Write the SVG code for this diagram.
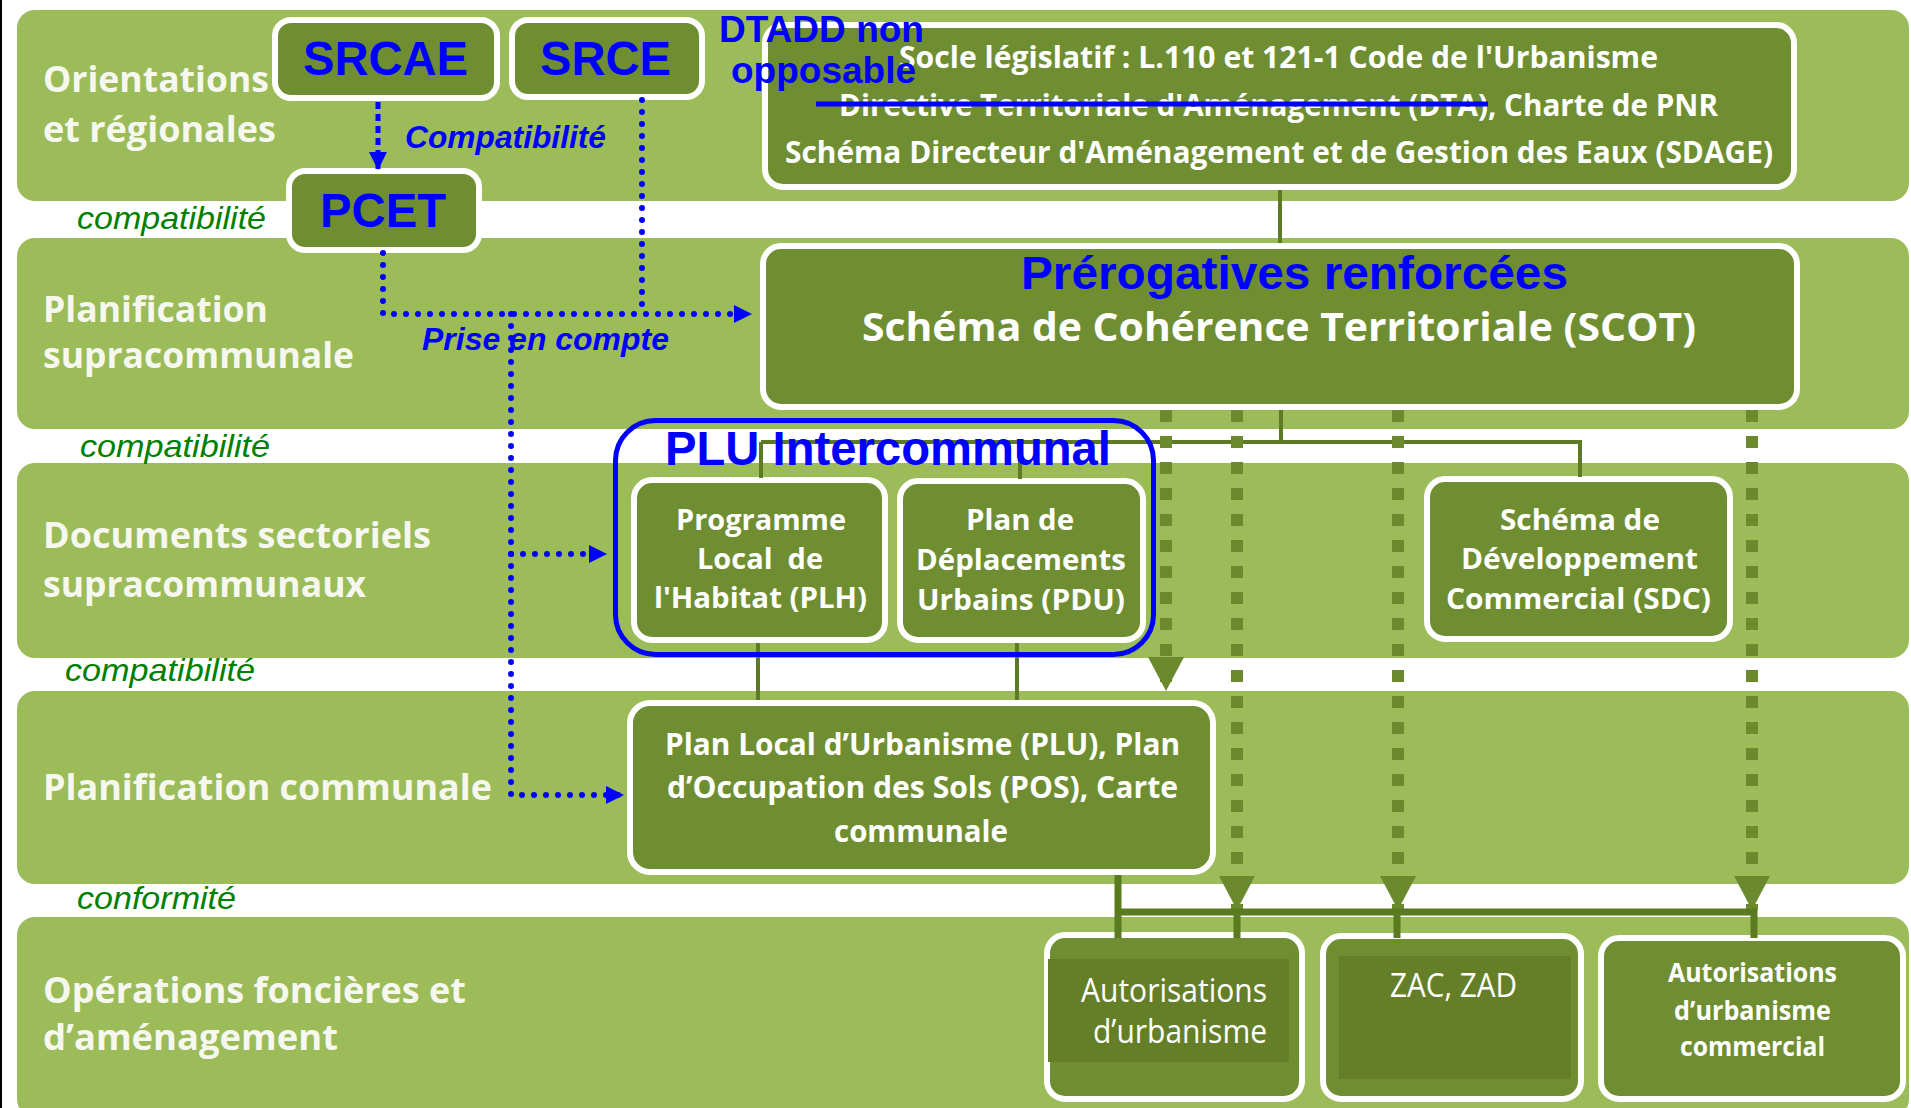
<svg xmlns="http://www.w3.org/2000/svg" width="1911" height="1108" viewBox="0 0 1911 1108">
<style>
.band{fill:#9bbc59}
.lbl{font-family:"Open Sans","Liberation Sans",sans-serif;font-weight:700;font-size:36px;fill:#f6f8f0}
.rel{font-family:"Liberation Sans",Arial,sans-serif;font-style:italic;font-size:32px;fill:#008000}
.box{fill:#6f8e31;stroke:#ffffff;stroke-width:6}
.bt{font-family:"Open Sans","Liberation Sans",sans-serif;font-weight:700;fill:#ffffff}
.bt-r{font-family:"Open Sans","Liberation Sans",sans-serif;font-weight:400;fill:#ffffff}
.blue{font-family:"Liberation Sans",Arial,sans-serif;font-weight:bold;fill:#0000ff}
.bdot{fill:none;stroke:#0000ff;stroke-width:6;stroke-dasharray:0 12;stroke-linecap:round}
.bdash{fill:none;stroke:#0000ff;stroke-width:5;stroke-dasharray:7 5}
.gdot{fill:none;stroke:#6b8a2e;stroke-width:12;stroke-dasharray:12 14}
.gline{fill:none;stroke:#5d7b24;stroke-width:4}
.bus{fill:none;stroke:#5a7a20;stroke-width:7}
.ovl{fill:#647f27}
</style>
<defs>
<marker id="barrow" markerUnits="userSpaceOnUse" markerWidth="18" markerHeight="18" refX="18" refY="9" orient="auto">
<path d="M0,0 L18,9 L0,18 z" fill="#0000ff"/>
</marker>
<marker id="garrow" markerUnits="userSpaceOnUse" markerWidth="36" markerHeight="36" refX="34" refY="18" orient="auto">
<path d="M0,0 L34,18 L0,36 z" fill="#6b8a2e"/>
</marker>
</defs>
<rect x="0" y="0" width="1911" height="1108" fill="#ffffff"/>
<line x1="1" y1="0" x2="1" y2="1108" stroke="#000000" stroke-width="2"/>

<g id="bands">
<rect class="band" x="17" y="10" width="1892" height="191" rx="18"/>
<rect class="band" x="17" y="238" width="1892" height="191" rx="18"/>
<rect class="band" x="17" y="463" width="1892" height="195" rx="18"/>
<rect class="band" x="17" y="691" width="1892" height="193" rx="18"/>
<rect class="band" x="17" y="917" width="1892" height="200" rx="18"/>
</g>

<g id="band-labels">
<text class="lbl" x="43" y="92" textLength="226" lengthAdjust="spacingAndGlyphs">Orientations</text>
<text class="lbl" x="43" y="142" textLength="233" lengthAdjust="spacingAndGlyphs">et régionales</text>
<text class="lbl" x="43" y="322" textLength="225" lengthAdjust="spacingAndGlyphs">Planification</text>
<text class="lbl" x="43" y="368" textLength="311" lengthAdjust="spacingAndGlyphs">supracommunale</text>
<text class="lbl" x="43" y="548" textLength="388" lengthAdjust="spacingAndGlyphs">Documents sectoriels</text>
<text class="lbl" x="43" y="597" textLength="323" lengthAdjust="spacingAndGlyphs">supracommunaux</text>
<text class="lbl" x="43" y="800" textLength="449" lengthAdjust="spacingAndGlyphs">Planification communale</text>
<text class="lbl" x="43" y="1003" textLength="423" lengthAdjust="spacingAndGlyphs">Opérations foncières et</text>
<text class="lbl" x="43" y="1050" textLength="295" lengthAdjust="spacingAndGlyphs">d’aménagement</text>
</g>

<g id="relation-labels">
<text class="rel" x="77" y="229" textLength="189" lengthAdjust="spacingAndGlyphs">compatibilité</text>
<text class="rel" x="80" y="457" textLength="190" lengthAdjust="spacingAndGlyphs">compatibilité</text>
<text class="rel" x="65" y="681" textLength="190" lengthAdjust="spacingAndGlyphs">compatibilité</text>
<text class="rel" x="77" y="909" textLength="159" lengthAdjust="spacingAndGlyphs">conformité</text>
</g>

<g id="socle">
<rect class="box" x="765" y="25" width="1029" height="162" rx="18"/>
<text class="bt" font-size="31" x="899" y="68" textLength="759" lengthAdjust="spacingAndGlyphs">Socle législatif : L.110 et 121-1 Code de l'Urbanisme</text>
<text class="bt" font-size="31" x="839" y="116" textLength="879" lengthAdjust="spacingAndGlyphs">Directive Territoriale d'Aménagement (DTA), Charte de PNR</text>
<text class="bt" font-size="31" x="785" y="163" textLength="988" lengthAdjust="spacingAndGlyphs">Schéma Directeur d'Aménagement et de Gestion des Eaux (SDAGE)</text>
</g>

<g id="scot">
<rect class="box" x="763" y="246" width="1034" height="161" rx="18"/>
<text class="bt" font-size="40" x="862" y="341" textLength="834" lengthAdjust="spacingAndGlyphs">Schéma de Cohérence Territoriale (SCOT)</text>
</g>

<g id="srcae">
<rect class="box" x="275" y="20" width="222" height="78" rx="16"/>
<text class="blue" font-size="48" x="303" y="75" textLength="165" lengthAdjust="spacingAndGlyphs">SRCAE</text>
</g>
<g id="srce">
<rect class="box" x="512" y="20" width="190" height="77" rx="16"/>
<text class="blue" font-size="48" x="540" y="75" textLength="131" lengthAdjust="spacingAndGlyphs">SRCE</text>
</g>
<g id="pcet">
<rect class="box" x="289" y="171" width="190" height="79" rx="16"/>
<text class="blue" font-size="48" x="320" y="227" textLength="126" lengthAdjust="spacingAndGlyphs">PCET</text>
</g>

<g id="plh">
<rect class="box" x="634" y="480" width="251" height="160" rx="18"/>
<text class="bt" font-size="28" x="676" y="530" textLength="170" lengthAdjust="spacingAndGlyphs">Programme</text>
<text class="bt" font-size="28" x="697" y="569" textLength="126" lengthAdjust="spacingAndGlyphs" xml:space="preserve">Local  de</text>
<text class="bt" font-size="28" x="654" y="608" textLength="213" lengthAdjust="spacingAndGlyphs">l'Habitat (PLH)</text>
</g>
<g id="pdu">
<rect class="box" x="900" y="481" width="243" height="159" rx="18"/>
<text class="bt" font-size="28" x="966" y="530" textLength="108" lengthAdjust="spacingAndGlyphs">Plan de</text>
<text class="bt" font-size="28" x="916" y="570" textLength="210" lengthAdjust="spacingAndGlyphs">Déplacements</text>
<text class="bt" font-size="28" x="917" y="610" textLength="208" lengthAdjust="spacingAndGlyphs">Urbains (PDU)</text>
</g>
<g id="sdc">
<rect class="box" x="1427" y="479" width="303" height="160" rx="18"/>
<text class="bt" font-size="28" x="1500" y="530" textLength="160" lengthAdjust="spacingAndGlyphs">Schéma de</text>
<text class="bt" font-size="28" x="1461" y="569" textLength="237" lengthAdjust="spacingAndGlyphs">Développement</text>
<text class="bt" font-size="28" x="1446" y="609" textLength="265" lengthAdjust="spacingAndGlyphs">Commercial (SDC)</text>
</g>
<g id="plu">
<rect class="box" x="630" y="703" width="583" height="169" rx="20"/>
<text class="bt" font-size="30" x="665" y="755" textLength="515" lengthAdjust="spacingAndGlyphs">Plan Local d’Urbanisme (PLU), Plan</text>
<text class="bt" font-size="30" x="667" y="798" textLength="511" lengthAdjust="spacingAndGlyphs">d’Occupation des Sols (POS), Carte</text>
<text class="bt" font-size="30" x="834" y="842" textLength="174" lengthAdjust="spacingAndGlyphs">communale</text>
</g>

<g id="autorisations">
<rect class="box" x="1047" y="935" width="255" height="164" rx="18"/>
<rect class="ovl" x="1048" y="959" width="241" height="103"/>
<text class="bt-r" font-size="32" x="1081" y="1002" textLength="186" lengthAdjust="spacingAndGlyphs">Autorisations</text>
<text class="bt-r" font-size="32" x="1093" y="1043" textLength="174" lengthAdjust="spacingAndGlyphs">d’urbanisme</text>
</g>
<g id="zac">
<rect class="box" x="1323" y="936" width="258" height="163" rx="18"/>
<rect class="ovl" x="1339" y="956" width="232" height="123"/>
<text class="bt-r" font-size="32" x="1390" y="997" textLength="127" lengthAdjust="spacingAndGlyphs">ZAC, ZAD</text>
</g>
<g id="commercial">
<rect class="box" x="1601" y="938" width="302" height="161" rx="18"/>
<text class="bt" font-size="27" x="1668" y="982" textLength="169" lengthAdjust="spacingAndGlyphs">Autorisations</text>
<text class="bt" font-size="27" x="1674" y="1020" textLength="157" lengthAdjust="spacingAndGlyphs">d’urbanisme</text>
<text class="bt" font-size="27" x="1680" y="1056" textLength="145" lengthAdjust="spacingAndGlyphs">commercial</text>
</g>

<g id="connectors">
<path class="gline" d="M1280 190 V243"/>
<path class="gline" d="M1281 410 V442"/>
<path class="gline" d="M761 442 H1580 V477"/>
<path class="gline" d="M761 442 V478"/>
<path class="gline" d="M1020 442 V479"/>
<path class="gline" d="M758 643 V700"/>
<path class="gline" d="M1017 643 V700"/>
<path class="gdot" d="M1166 410 V691" marker-end="url(#garrow)"/>
<path class="gdot" d="M1237 410 V910" marker-end="url(#garrow)"/>
<path class="gdot" d="M1398 410 V910" marker-end="url(#garrow)"/>
<path class="gdot" d="M1752 410 V910" marker-end="url(#garrow)"/>
<path class="bus" d="M1118 875 V938 M1114.5 912 H1757.5 M1237 912 V938 M1397 912 V938 M1754 912 V938"/>
<path class="bdash" d="M378 102 V170" marker-end="url(#barrow)"/>
<path class="bdot" d="M642 100 V314"/>
<path class="bdot" d="M383 253 V314 H752" marker-end="url(#barrow)"/>
<path class="bdot" d="M511 314 V795 H624" marker-end="url(#barrow)"/>
<path class="bdot" d="M511 554 H607" marker-end="url(#barrow)"/>
</g>

<g id="annotations">
<text class="blue" font-size="32" font-style="italic" x="405" y="148" textLength="201" lengthAdjust="spacingAndGlyphs">Compatibilité</text>
<text class="blue" font-size="32" font-style="italic" x="422" y="350" textLength="247" lengthAdjust="spacingAndGlyphs">Prise en compte</text>
<text class="blue" font-size="36" x="719" y="42" textLength="205" lengthAdjust="spacingAndGlyphs">DTADD non</text>
<text class="blue" font-size="36" x="731" y="83" textLength="185" lengthAdjust="spacingAndGlyphs">opposable</text>
<line x1="816" y1="104" x2="1488" y2="104" stroke="#0000ff" stroke-width="5"/>
<text class="blue" font-size="47" x="1021" y="289" textLength="547" lengthAdjust="spacingAndGlyphs">Prérogatives renforcées</text>
</g>

<g id="plu-intercommunal">
<rect x="615.5" y="420.5" width="538" height="234" rx="40" fill="none" stroke="#0000ff" stroke-width="5"/>
<text class="blue" font-size="48" x="665" y="465" textLength="446" lengthAdjust="spacingAndGlyphs">PLU Intercommunal</text>
</g>
</svg>
